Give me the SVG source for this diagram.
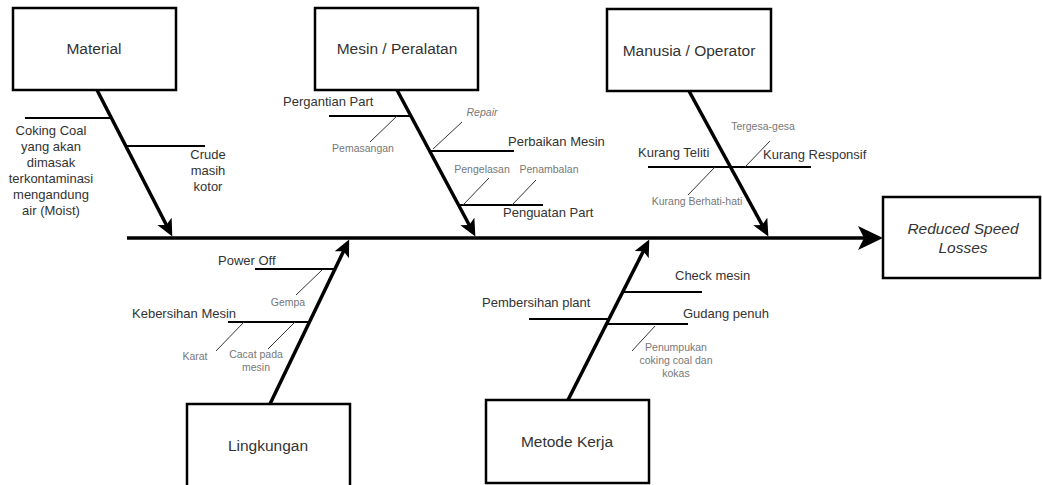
<svg xmlns="http://www.w3.org/2000/svg" width="1042" height="485" viewBox="0 0 1042 485">
<style>
.box{fill:#fff;stroke:#000;stroke-width:2.5}
.cat{font-family:"Liberation Sans",Arial,sans-serif;font-size:15.5px;fill:#333;text-anchor:middle}
.lbl{font-family:"Liberation Sans",Arial,sans-serif;font-size:13px;fill:#333}
.sm{font-family:"Liberation Sans",Arial,sans-serif;font-size:10.5px;fill:#777;text-anchor:middle}
.mid{text-anchor:middle}
.bone{stroke:#000;stroke-width:3.5;fill:none}
.br{stroke:#000;stroke-width:2;fill:none}
.sub{stroke:#333;stroke-width:1;fill:none}
</style>
<defs>
<marker id="ah" markerUnits="userSpaceOnUse" markerWidth="20" markerHeight="18" refX="12" refY="8" orient="auto">
<path d="M0,0 L17,8 L0,16 L4,8 z" fill="#000"/>
</marker>
<marker id="ahBig" markerUnits="userSpaceOnUse" markerWidth="28" markerHeight="26" refX="19" refY="12" orient="auto">
<path d="M0,0 L25,12 L0,24 L6,12 z" fill="#000"/>
</marker>
</defs>
<g id="connectors">
<line class="bone" x1="127" y1="238" x2="877" y2="238" stroke-width="4" marker-end="url(#ahBig)"/>
<line class="bone" x1="97" y1="90" x2="170" y2="232" marker-end="url(#ah)"/>
<line class="bone" x1="397" y1="90" x2="473" y2="232" marker-end="url(#ah)"/>
<line class="bone" x1="689" y1="91" x2="766" y2="232" marker-end="url(#ah)"/>
<line class="bone" x1="270" y1="404" x2="347" y2="244" marker-end="url(#ah)"/>
<line class="bone" x1="568" y1="400" x2="647" y2="244" marker-end="url(#ah)"/>
<line class="br" x1="25" y1="118" x2="112" y2="118"/>
<line class="br" x1="126" y1="146" x2="205" y2="146"/>
<line class="br" x1="329" y1="116" x2="411" y2="116"/>
<line class="br" x1="430" y1="151" x2="514" y2="151"/>
<line class="br" x1="459" y1="205" x2="543" y2="205"/>
<line class="br" x1="648" y1="167" x2="811" y2="167"/>
<line class="br" x1="255" y1="269" x2="335" y2="269"/>
<line class="br" x1="228" y1="322" x2="310" y2="322"/>
<line class="br" x1="623" y1="292" x2="702" y2="292"/>
<line class="br" x1="529" y1="319" x2="609" y2="319"/>
<line class="br" x1="607" y1="324" x2="688" y2="324"/>
<line class="sub" x1="397" y1="116" x2="370" y2="142"/>
<line class="sub" x1="433" y1="149" x2="462" y2="122"/>
<line class="sub" x1="463" y1="205" x2="489" y2="178"/>
<line class="sub" x1="512" y1="205" x2="536" y2="180"/>
<line class="sub" x1="745" y1="167" x2="770" y2="141"/>
<line class="sub" x1="715" y1="167" x2="688" y2="195"/>
<line class="sub" x1="322" y1="270" x2="296" y2="295"/>
<line class="sub" x1="244" y1="322" x2="216" y2="351"/>
<line class="sub" x1="295" y1="322" x2="268" y2="349"/>
<line class="sub" x1="655" y1="326" x2="632" y2="351"/>
</g>
<g id="material">
<rect class="box" x="13" y="8" width="163" height="82"/>
<text class="cat" x="94" y="54">Material</text>
</g>
<g id="mesin">
<rect class="box" x="315" y="8" width="163" height="82"/>
<text class="cat" x="397" y="54">Mesin / Peralatan</text>
</g>
<g id="manusia">
<rect class="box" x="607" y="9" width="164" height="82"/>
<text class="cat" x="689" y="56">Manusia / Operator</text>
</g>
<g id="effect">
<rect class="box" x="883" y="197" width="157" height="81"/>
<text class="cat" x="963" y="234" font-style="italic">Reduced Speed</text>
<text class="cat" x="963" y="253" font-style="italic">Losses</text>
</g>
<g id="lingkungan">
<rect class="box" x="187" y="404" width="163" height="90"/>
<text class="cat" x="268" y="451">Lingkungan</text>
</g>
<g id="metode">
<rect class="box" x="486" y="400" width="163" height="83"/>
<text class="cat" x="567" y="447">Metode Kerja</text>
</g>
<g id="material-causes">
<text class="lbl mid" x="51" y="135">Coking Coal</text>
<text class="lbl mid" x="51" y="151">yang akan</text>
<text class="lbl mid" x="51" y="167">dimasak</text>
<text class="lbl mid" x="51" y="183">terkontaminasi</text>
<text class="lbl mid" x="51" y="199">mengandung</text>
<text class="lbl mid" x="51" y="215">air (Moist)</text>
<text class="lbl mid" x="208" y="159">Crude</text>
<text class="lbl mid" x="208" y="175">masih</text>
<text class="lbl mid" x="208" y="191">kotor</text>
</g>
<g id="mesin-causes">
<text class="lbl" x="283" y="106">Pergantian Part</text>
<text class="sm" x="363" y="152">Pemasangan</text>
<text class="sm" x="482" y="116" font-style="italic">Repair</text>
<text class="lbl" x="508" y="146">Perbaikan Mesin</text>
<text class="sm" x="482" y="173">Pengelasan</text>
<text class="sm" x="549" y="173">Penambalan</text>
<text class="lbl" x="503" y="217">Penguatan Part</text>
</g>
<g id="manusia-causes">
<text class="lbl" x="638" y="157">Kurang Teliti</text>
<text class="lbl" x="763" y="159">Kurang Responsif</text>
<text class="sm" x="763" y="130">Tergesa-gesa</text>
<text class="sm" x="697" y="205">Kurang Berhati-hati</text>
</g>
<g id="lingkungan-causes">
<text class="lbl" x="218" y="265">Power Off</text>
<text class="sm" x="288" y="306">Gempa</text>
<text class="lbl" x="132" y="318">Kebersihan Mesin</text>
<text class="sm" x="195" y="360">Karat</text>
<text class="sm" x="256" y="358">Cacat pada</text>
<text class="sm" x="256" y="371">mesin</text>
</g>
<g id="metode-causes">
<text class="lbl" x="675" y="280">Check mesin</text>
<text class="lbl" x="482" y="307">Pembersihan plant</text>
<text class="lbl" x="683" y="318">Gudang penuh</text>
<text class="sm" x="676" y="351">Penumpukan</text>
<text class="sm" x="676" y="364">coking coal dan</text>
<text class="sm" x="676" y="377">kokas</text>
</g>
</svg>
